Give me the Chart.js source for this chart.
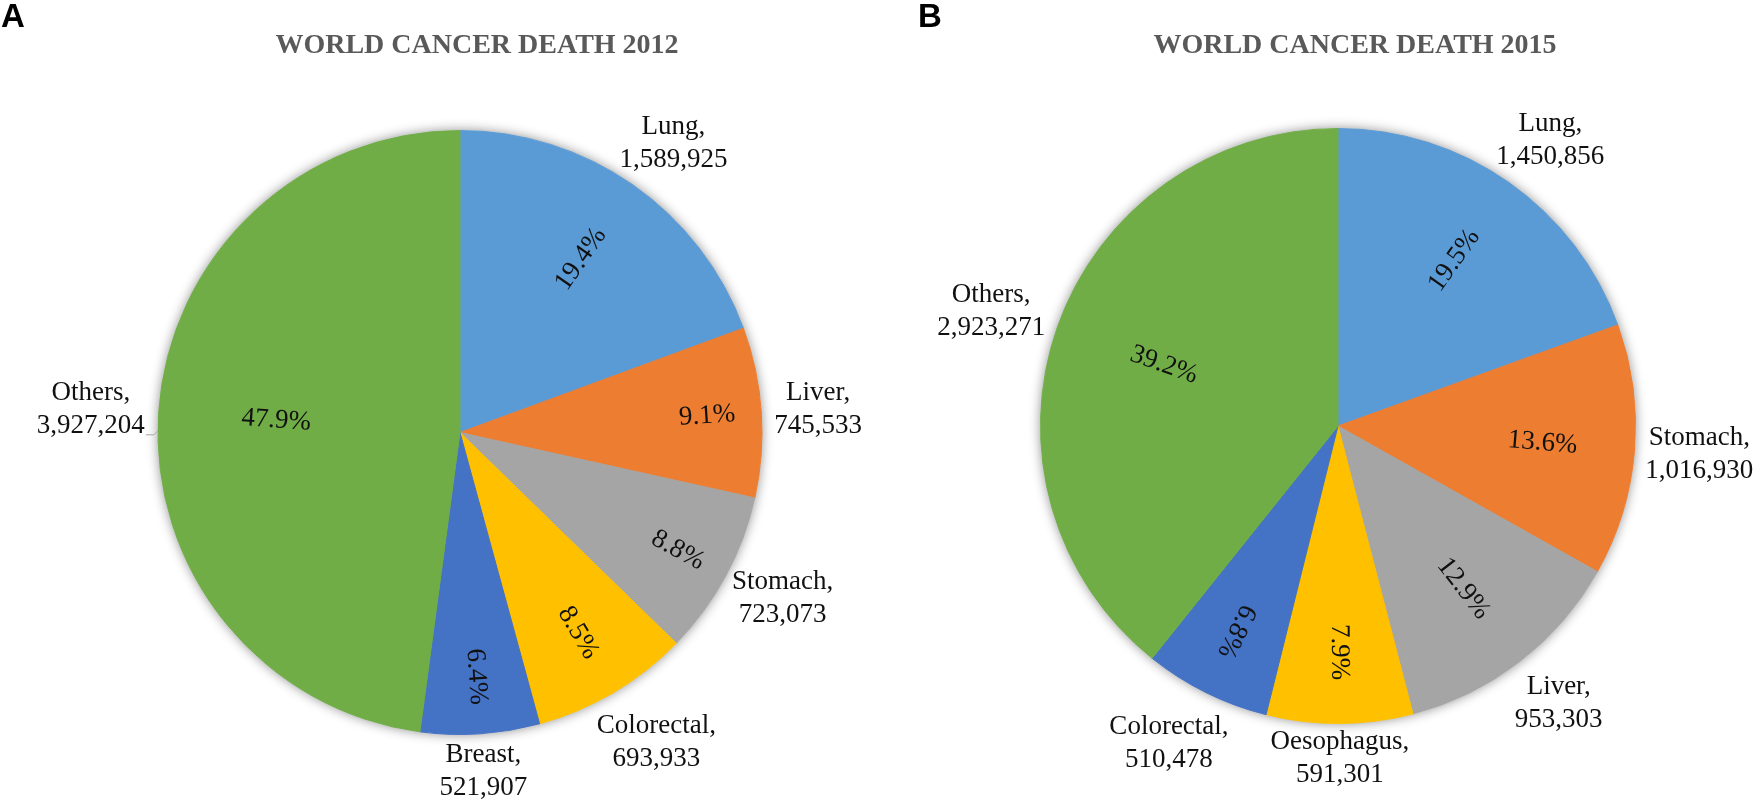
<!DOCTYPE html>
<html>
<head>
<meta charset="utf-8">
<title>World cancer death 2012 / 2015</title>
<script src="https://cdn.jsdelivr.net/npm/chart.js@4.4.1/dist/chart.umd.min.js"></script>
<style>
  html, body { margin: 0; padding: 0; background: #fff; }
  #wrap { position: relative; width: 1760px; height: 808px; overflow: hidden; }
  canvas { position: absolute; top: 0; }
  #chartA { left: 0; }
  #chartB { left: 880px; }
</style>
</head>
<body>
<div id="wrap">
  <canvas id="chartA" width="880" height="808"></canvas>
  <canvas id="chartB" width="880" height="808"></canvas>
</div>
<script>
// data
var categories2012 = ["Lung", "Liver", "Stomach", "Colorectal", "Breast", "Others"];
var deaths2012 = [1589925, 745533, 723073, 693933, 521907, 3927204];
var shares2012 = ["19.4%", "9.1%", "8.8%", "8.5%", "6.4%", "47.9%"];

var categories2015 = ["Lung", "Stomach", "Liver", "Oesophagus", "Colorectal", "Others"];
var deaths2015 = [1450856, 1016930, 953303, 591301, 510478, 2923271];
var shares2015 = ["19.5%", "13.6%", "12.9%", "7.9%", "6.8%", "39.2%"];

var sliceColors = ['#5B9BD5', '#ED7D31', '#A5A5A5', '#FFC000', '#4472C4', '#70AD47'];

var LABEL_FONT = '27px "Liberation Serif", "Times New Roman", serif';
var LINE_H = 33;

// draws the shadow, titles, percentages inside and name/value labels outside
var sliceLabels = {
	id: 'sliceLabels',
	beforeDatasetsDraw: function(chart, args, opts) {
		var ctx = chart.ctx;
		var arc = chart.getDatasetMeta(0).data[0];
		var p = arc.getProps(['x', 'y', 'outerRadius'], true);
		ctx.save();
		ctx.shadowColor = 'rgba(0,0,0,0.45)';
		ctx.shadowBlur = 12;
		ctx.fillStyle = '#fff';
		ctx.beginPath();
		ctx.arc(p.x, p.y, p.outerRadius, 0, Math.PI * 2);
		ctx.fill();
		ctx.restore();
	},
	afterDatasetsDraw: function(chart, args, opts) {
		var ctx = chart.ctx;
		var meta = chart.getDatasetMeta(0);
		var labels = chart.data.labels;
		var values = chart.data.datasets[0].data;

		ctx.save();
		// panel letter
		ctx.fillStyle = '#000';
		ctx.font = 'bold 33px "Liberation Sans", Arial, sans-serif';
		ctx.textAlign = 'left';
		ctx.textBaseline = 'alphabetic';
		ctx.fillText(opts.letter, opts.letterX, 27);

		// title
		ctx.fillStyle = '#595959';
		ctx.font = 'bold 28px "Liberation Serif", "Times New Roman", serif';
		ctx.textAlign = 'center';
		ctx.fillText(opts.title, opts.titleX, 53);

		ctx.font = LABEL_FONT;
		ctx.fillStyle = '#111';
		meta.data.forEach(function(arc, i) {
			var p = arc.getProps(['x', 'y', 'startAngle', 'endAngle', 'outerRadius'], true);
			var mid = (p.startAngle + p.endAngle) / 2;
			var R = p.outerRadius;
			var c = Math.cos(mid), s = Math.sin(mid);

			// percentage inside, written along the radius
			var rot = mid;
			if (rot > Math.PI * 5 / 6) rot -= Math.PI;
			var f = opts.pctRadius[i];
			ctx.save();
			ctx.translate(p.x + c * f * R, p.y + s * f * R);
			ctx.rotate(rot);
			ctx.textAlign = 'center';
			ctx.textBaseline = 'middle';
			ctx.fillText(opts.shares[i], 0, 0);
			ctx.restore();

			// name, value outside
			var lines = [labels[i] + ',', values[i].toLocaleString('en-US')];
			var w = Math.max(ctx.measureText(lines[0]).width, ctx.measureText(lines[1]).width);
			var h = LINE_H * lines.length;
			var g = R + opts.gaps[i];
			var bx = p.x + c * g + c * w / 2;
			var by = p.y + s * g + s * h / 2;
			ctx.textAlign = 'center';
			ctx.textBaseline = 'middle';
			lines.forEach(function(t, k) {
				ctx.fillText(t, bx, by - h / 2 + LINE_H * (k + 0.5));
			});

			if (opts.leader === i) {
				var lx = bx + ctx.measureText(lines[1]).width / 2 + 1;
				var ly = by + LINE_H / 2 + 9;
				var ey = ly - 4;
				var ex = p.x - Math.sqrt(R * R - (ey - p.y) * (ey - p.y));
				ctx.save();
				ctx.strokeStyle = '#a6a6a6';
				ctx.lineWidth = 1;
				ctx.beginPath();
				ctx.moveTo(lx, ly);
				ctx.lineTo(lx + 8, ly);
				ctx.lineTo(ex, ey);
				ctx.stroke();
				ctx.restore();
			}
		});
		ctx.restore();
	}
};

function buildChart(id, labels, values, pluginOpts, padding) {
	var ctx = document.getElementById(id).getContext('2d');
	return new Chart(ctx, {
		type: 'pie',
		data: {
			labels: labels,
			datasets: [{
				data: values,
				backgroundColor: sliceColors,
				borderColor: sliceColors,
				borderWidth: 1,
				hoverOffset: 0,
				offset: 0
			}]
		},
		options: {
			responsive: false,
			animation: false,
			events: [],
			layout: { padding: padding },
			plugins: {
				legend: { display: false },
				title: { display: false },
				tooltip: { enabled: false },
				sliceLabels: pluginOpts
			}
		},
		plugins: [sliceLabels]
	});
}

buildChart('chartA', categories2012, deaths2012, {
	letter: 'A', letterX: 1,
	title: 'WORLD CANCER DEATH 2012', titleX: 477,
	shares: shares2012,
	pctRadius: [0.70, 0.82, 0.82, 0.77, 0.81, 0.61],
	gaps: [17, 13, 14, 25, 5, 14],
	leader: 5
}, { left: 157, top: 130, right: 117, bottom: 73 });

buildChart('chartB', categories2015, deaths2015, {
	letter: 'B', letterX: 38,
	title: 'WORLD CANCER DEATH 2015', titleX: 475,
	shares: shares2015,
	pctRadius: [0.68, 0.69, 0.69, 0.76, 0.77, 0.62],
	gaps: [18, 11, 20, 2, 24, 16],
	leader: -1
}, { left: 160, top: 128, right: 124, bottom: 84 });
</script>
</body>
</html>
